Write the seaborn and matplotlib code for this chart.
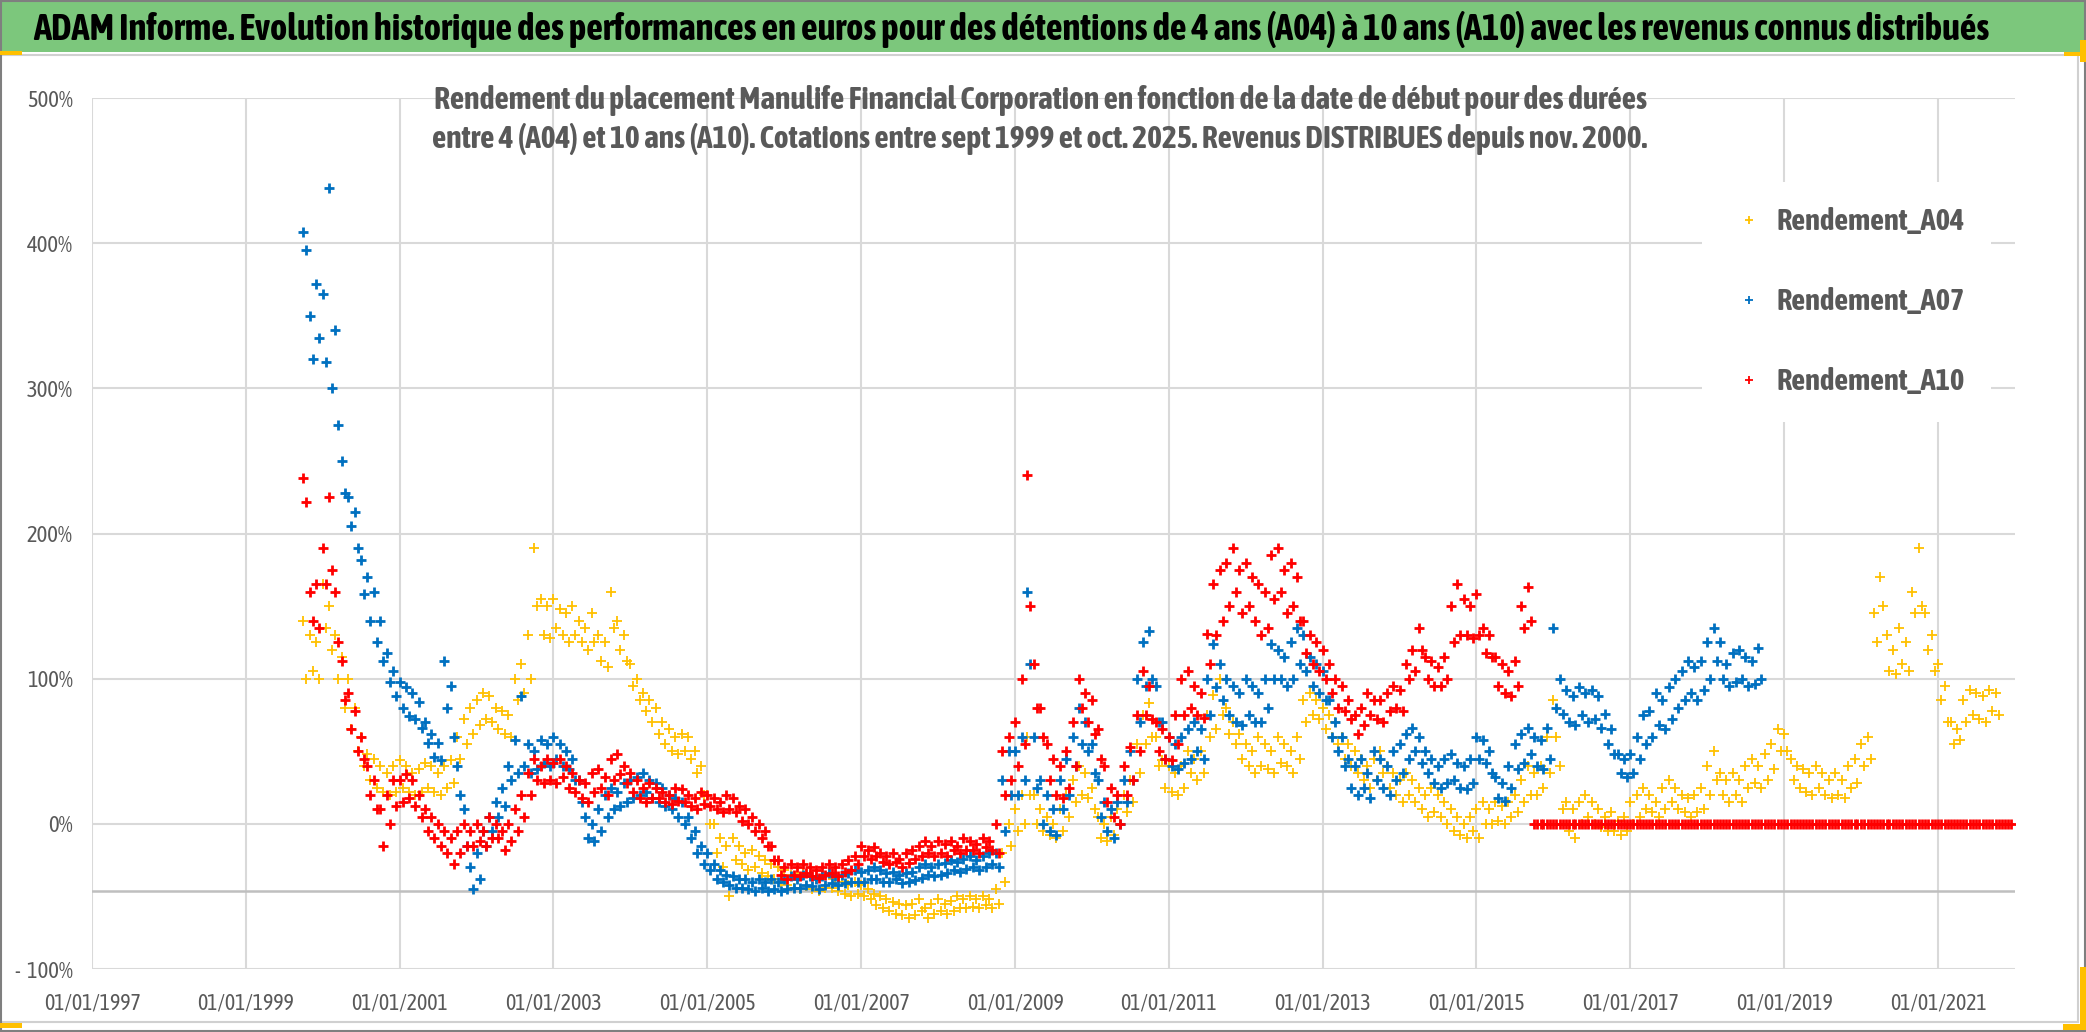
import numpy as np
import pandas as pd
import matplotlib
matplotlib.use("Agg")
import matplotlib.pyplot as plt
import matplotlib.font_manager as fm
from matplotlib.patches import Rectangle
from matplotlib.lines import Line2D
from matplotlib.ticker import FuncFormatter
import seaborn as sns

# ---------------------------------------------------------------- data
TITLE = ("ADAM Informe. Evolution historique des performances en euros pour des "
         "détentions de 4 ans (A04) à 10 ans (A10) avec les revenus connus distribués")
SUBTITLE_1 = ("Rendement du placement Manulife Financial Corporation en fonction de la "
              "date de début pour des durées")
SUBTITLE_2 = ("entre 4 (A04) et 10 ans (A10). Cotations entre sept 1999 et oct. 2025. "
              "Revenus DISTRIBUES depuis nov. 2000.")
SERIES_NAMES = ["Rendement_A04", "Rendement_A07", "Rendement_A10"]
X_TICK_YEARS = list(range(1997, 2022, 2))
Y_TICKS = [-1, 0, 1, 2, 3, 4, 5]

# monthly readings (value on the 1st, value on the 15th), in %
A04_START = "1999-10-01"
A04_VALUES = [
    (140, 100), (130, 105), (125, 100),
    (165, 135), (150, 120), (130, 100), (115, 80), (100, 65), (80, 50), (60, 40), (48, 30), (45, 25), (40, 22), (35, 20), (40, 22),
    (44, 25), (40, 22), (35, 20), (38, 22), (42, 25), (40, 22), (35, 20), (40, 25), (44, 28), (60, 45), (72, 55), (80, 62),
    (85, 68), (90, 72), (88, 70), (80, 65), (78, 62), (75, 60), (100, 85), (110, 90), (130, 100), (190, 150), (155, 130), (150, 128),
    (155, 135), (148, 130), (145, 125), (150, 130), (140, 125), (135, 120), (145, 125), (130, 112), (125, 108), (160, 135), (140, 120), (130, 112),
    (110, 95), (100, 85), (90, 78), (85, 70), (80, 62), (70, 55), (65, 50), (60, 48), (62, 50), (60, 45), (50, 35), (40, 20),
    (20, 0), (0, -20), (-10, -30), (-15, -50), (-10, -25), (-15, -28), (-20, -32), (-18, -30), (-22, -34), (-25, -36), (-28, -38), (-30, -40),
    (-32, -42), (-35, -44), (-36, -45), (-34, -43), (-36, -45), (-38, -46), (-36, -44), (-35, -44), (-38, -46), (-40, -48), (-42, -50), (-40, -48),
    (-42, -50), (-45, -52), (-48, -56), (-50, -58), (-52, -60), (-54, -62), (-55, -63), (-56, -65), (-55, -63), (-52, -60), (-58, -65), (-55, -62),
    (-52, -60), (-55, -62), (-53, -60), (-50, -58), (-52, -58), (-50, -57), (-52, -58), (-50, -56), (-52, -58), (-45, -55), (-20, -40), (0, -15),
    (10, -5), (20, 0), (60, 20), (20, 0), (10, -5), (5, -8), (0, -10), (10, -5), (20, 5), (30, 15), (40, 20), (35, 18),
    (25, 10), (5, -10), (0, -12), (5, -8), (10, 0), (20, 8), (30, 15), (55, 35), (75, 55), (83, 60), (60, 40), (44, 25),
    (40, 22), (35, 20), (40, 25), (50, 35), (45, 30), (50, 35), (75, 60), (89, 65), (100, 75), (80, 62), (70, 55), (62, 45),
    (55, 40), (50, 35), (60, 40), (55, 38), (50, 35), (60, 42), (55, 40), (50, 35), (60, 45), (85, 70), (90, 75), (85, 72),
    (80, 65), (75, 60), (70, 55), (60, 45), (55, 40), (50, 35), (45, 30), (40, 25), (45, 30), (50, 35), (40, 25), (35, 20),
    (30, 15), (35, 20), (30, 15), (25, 10), (20, 5), (25, 8), (20, 5), (15, 0), (10, -5), (5, -8), (0, -10), (5, -5),
    (10, -10), (15, 0), (10, 0), (15, 2), (12, 0), (15, 5), (20, 8), (30, 15), (40, 20), (35, 20), (40, 25), (60, 35),
    (85, 60), (40, 10), (15, -5), (10, -10), (15, 0), (20, 5), (15, 0), (10, -2), (5, -5), (8, -5), (2, -8), (5, -5),
    (15, 0), (20, 5), (25, 10), (20, 8), (15, 5), (25, 10), (30, 15), (25, 10), (20, 8), (18, 5), (20, 8), (25, 10),
    (40, 20), (50, 30), (35, 20), (30, 15), (35, 20), (30, 15), (40, 25), (45, 28), (40, 25), (48, 30), (55, 38), (65, 50),
    (62, 50), (45, 30), (40, 25), (38, 22), (35, 20), (40, 25), (35, 20), (30, 18), (35, 20), (30, 18), (40, 25), (45, 28),
    (55, 40), (60, 45), (145, 125), (170, 150), (130, 105), (120, 103), (135, 110), (125, 105), (160, 145), (190, 150), (145, 120), (130, 105),
    (110, 85), (95, 70), (70, 55), (65, 58), (85, 70), (92, 75), (90, 72), (88, 70), (92, 78), (90, 75),
]

A07_START = "1999-10-01"
A07_VALUES = [
    (408, 395), (350, 320), (372, 335),
    (365, 318), (438, 300), (340, 275), (250, 228), (225, 205), (215, 190), (182, 158), (170, 140), (160, 125), (140, 112), (118, 98), (105, 88),
    (98, 80), (94, 74), (90, 72), (84, 66), (70, 56), (62, 46), (56, 44), (112, 80), (95, 60), (40, 20), (10, -15), (-30, -45),
    (-20, -38), (-5, -15), (5, -5), (15, 5), (25, 12), (40, 30), (58, 35), (88, 40), (55, 35), (50, 38), (58, 42), (55, 40),
    (60, 45), (55, 40), (50, 38), (45, 30), (30, 15), (5, -10), (0, -12), (10, -5), (20, 5), (25, 10), (22, 12), (28, 15),
    (30, 18), (32, 20), (35, 22), (30, 18), (28, 15), (25, 12), (20, 10), (18, 5), (15, 0), (5, -10), (-5, -20), (-15, -28),
    (-20, -32), (-28, -38), (-32, -40), (-35, -42), (-36, -44), (-38, -44), (-38, -45), (-40, -46), (-38, -44), (-40, -46), (-38, -45), (-40, -46),
    (-38, -45), (-36, -44), (-38, -44), (-35, -42), (-36, -43), (-38, -45), (-36, -42), (-34, -41), (-36, -42), (-35, -41), (-34, -40), (-32, -40),
    (-33, -40), (-32, -38), (-30, -38), (-32, -40), (-34, -40), (-33, -38), (-35, -41), (-34, -40), (-33, -39), (-30, -37), (-28, -35), (-30, -36),
    (-28, -35), (-27, -34), (-25, -32), (-26, -33), (-24, -31), (-22, -30), (-25, -32), (-22, -30), (-20, -28), (-20, -30), (30, -5), (50, 20),
    (50, 20), (60, 30), (160, 110), (60, 25), (30, 0), (20, -5), (10, -8), (30, 10), (45, 20), (60, 40), (80, 55), (70, 50),
    (55, 35), (30, 5), (15, -5), (10, -10), (15, 0), (30, 15), (50, 30), (100, 70), (125, 95), (133, 100), (95, 70), (70, 45),
    (60, 40), (55, 38), (60, 42), (65, 45), (70, 50), (65, 45), (100, 75), (124, 94), (110, 85), (100, 75), (95, 70), (90, 68),
    (100, 75), (95, 70), (90, 70), (100, 80), (124, 100), (120, 100), (115, 95), (125, 100), (135, 110), (130, 105), (115, 95), (110, 90),
    (105, 85), (85, 60), (70, 50), (60, 40), (45, 25), (40, 20), (45, 25), (35, 18), (50, 30), (45, 25), (40, 20), (50, 30),
    (55, 35), (62, 45), (66, 50), (60, 42), (50, 35), (45, 28), (40, 25), (45, 28), (48, 30), (42, 25), (40, 24), (45, 28),
    (60, 45), (58, 42), (50, 35), (32, 18), (28, 16), (40, 25), (55, 38), (62, 42), (66, 48), (60, 40), (58, 38), (66, 45),
    (135, 80), (100, 76), (92, 70), (88, 68), (94, 75), (90, 70), (92, 72), (88, 66), (76, 55), (65, 48), (48, 35), (45, 32),
    (48, 35), (60, 45), (75, 55), (78, 60), (90, 68), (85, 65), (94, 72), (100, 80), (105, 85), (112, 90), (108, 85), (112, 92),
    (125, 100), (135, 112), (125, 100), (110, 95), (118, 98), (120, 100), (115, 95), (112, 96), (121, 100),
]

A10_START = "1999-10-01"
A10_VALUES = [
    (238, 222), (160, 140), (165, 135),
    (190, 165), (225, 175), (160, 125), (112, 85), (90, 65), (78, 50), (60, 45), (40, 20), (30, 10), (10, -15), (20, 0), (30, 12),
    (30, 15), (34, 18), (30, 12), (20, 5), (10, -5), (5, -10), (0, -15), (-5, -20), (-10, -28), (-5, -20), (0, -15), (-5, -15),
    (0, -12), (-5, -15), (5, -10), (0, -10), (-5, -18), (0, -12), (10, -5), (20, 5), (35, 20), (45, 30), (40, 28), (45, 30),
    (42, 28), (45, 32), (40, 25), (35, 22), (30, 18), (28, 15), (35, 22), (38, 25), (32, 20), (45, 30), (48, 34), (40, 28),
    (35, 22), (30, 18), (25, 15), (28, 18), (25, 18), (22, 15), (20, 14), (25, 16), (24, 15), (20, 12), (18, 10), (22, 14),
    (20, 12), (18, 10), (15, 8), (20, 10), (18, 8), (12, 2), (10, 0), (5, -5), (0, -10), (-5, -15), (-15, -25), (-25, -35),
    (-30, -38), (-28, -35), (-30, -36), (-28, -34), (-30, -36), (-32, -37), (-30, -35), (-28, -34), (-30, -36), (-28, -33), (-25, -32), (-22, -28),
    (-15, -22), (-18, -24), (-16, -22), (-20, -26), (-22, -28), (-20, -26), (-24, -30), (-20, -27), (-18, -24), (-15, -22), (-12, -20), (-15, -22),
    (-12, -20), (-14, -22), (-12, -18), (-15, -20), (-10, -18), (-12, -18), (-14, -20), (-10, -16), (-12, -18), (0, -20), (50, 20), (60, 30),
    (70, 40), (100, 55), (240, 150), (110, 80), (80, 60), (55, 30), (45, 20), (40, 18), (50, 25), (70, 40), (100, 80), (90, 70),
    (85, 62), (65, 45), (40, 15), (25, 5), (20, 0), (40, 20), (53, 30), (75, 50), (105, 75), (95, 72), (70, 50), (65, 45),
    (60, 44), (75, 55), (100, 75), (105, 80), (95, 75), (90, 73), (131, 110), (165, 130), (175, 140), (180, 150), (190, 160), (175, 145),
    (180, 150), (170, 140), (165, 130), (160, 135), (185, 155), (190, 160), (175, 145), (180, 150), (170, 140), (140, 118), (130, 110), (125, 105),
    (120, 100), (110, 90), (100, 80), (95, 78), (85, 72), (75, 62), (80, 68), (90, 75), (85, 72), (85, 70), (90, 78), (95, 80),
    (92, 78), (110, 100), (120, 105), (135, 120), (115, 100), (112, 95), (108, 95), (115, 100), (150, 125), (165, 130), (155, 130), (150, 128),
    (158, 130), (135, 118), (130, 115), (115, 95), (110, 90), (105, 88), (112, 95), (150, 135), (163, 140),
    (0, 0), (0, 0), (0, 0),
    (0, 0), (0, 0), (0, 0), (0, 0), (0, 0), (0, 0), (0, 0), (0, 0), (0, 0), (0, 0), (0, 0), (0, 0),
    (0, 0), (0, 0), (0, 0), (0, 0), (0, 0), (0, 0), (0, 0), (0, 0), (0, 0), (0, 0), (0, 0), (0, 0),
    (0, 0), (0, 0), (0, 0), (0, 0), (0, 0), (0, 0), (0, 0), (0, 0), (0, 0), (0, 0), (0, 0), (0, 0),
    (0, 0), (0, 0), (0, 0), (0, 0), (0, 0), (0, 0), (0, 0), (0, 0), (0, 0), (0, 0), (0, 0), (0, 0),
    (0, 0), (0, 0), (0, 0), (0, 0), (0, 0), (0, 0), (0, 0), (0, 0), (0, 0), (0, 0), (0, 0), (0, 0),
    (0, 0), (0, 0), (0, 0), (0, 0), (0, 0), (0, 0), (0, 0), (0, 0), (0, 0), (0, 0), (0, 0), (0, 0),
]

COLORS = {"Rendement_A04": "#FFC000", "Rendement_A07": "#0070C0", "Rendement_A10": "#FF0000"}
LINEW = {"Rendement_A04": 1.3, "Rendement_A07": 2.0, "Rendement_A10": 2.0}


def to_frame(name, start, values):
    months = pd.date_range(start, periods=len(values), freq="MS")
    first = pd.DataFrame({"date": months, "value": [v[0] / 100 for v in values]})
    mid = pd.DataFrame({"date": months + pd.Timedelta(days=14), "value": [v[1] / 100 for v in values]})
    df = pd.concat([first, mid]).sort_values("date")
    df["series"] = name
    return df


data = pd.concat([
    to_frame("Rendement_A04", A04_START, A04_VALUES),
    to_frame("Rendement_A07", A07_START, A07_VALUES),
    to_frame("Rendement_A10", A10_START, A10_VALUES),
], ignore_index=True)

# ---------------------------------------------------------------- fonts
sns.set_theme(style="white")


def _w(v):
    if isinstance(v, str):
        return fm.weight_dict.get(v, 400)
    return int(v)


weights = {}
for f in fm.fontManager.ttflist:
    weights.setdefault(f.name, set()).add(_w(f.weight))
PREFS = ["Asap Condensed", "Cabin Condensed", "Encode Sans Condensed", "Barlow Semi Condensed",
         "Archivo Narrow", "Barlow Condensed", "Liberation Sans Narrow"]
base_family = "Liberation Sans"
for p in PREFS:
    if p in weights and max(weights[p]) >= 600 and min(weights[p]) <= 500:
        base_family = p
        break
plt.rcParams["font.family"] = [base_family, "DejaVu Sans"]

# ---------------------------------------------------------------- figure
W, H = 2086, 1032
fig = plt.figure(figsize=(W / 100, H / 100), dpi=100)
fig.patch.set_facecolor("white")

fig.patches.append(Rectangle((0, 1 - 52 / H), 1, 52 / H, transform=fig.transFigure,
                             facecolor="#7CC77C", edgecolor="none", zorder=0))
fig.patches.append(Rectangle((0, 1 - 1022 / H), 2078 / W, (1022 - 55) / H, transform=fig.transFigure,
                             facecolor="none", edgecolor="#D0D0D0", lw=1.5, zorder=1))
fig.patches.append(Rectangle((0.0005, 0.0005), 0.999, 0.999, transform=fig.transFigure,
                             facecolor="none", edgecolor="#7F7F7F", lw=1.5, zorder=2))
for (x0, y0, w, h) in [(0, 51, 22, 4), (0, 1023, 22, 5), (2063, 1024, 23, 6), (2080, 967, 6, 63),
                       (2080, 40, 6, 22), (2064, 52, 22, 4)]:
    fig.patches.append(Rectangle((x0 / W, 1 - (y0 + h) / H), w / W, h / H, transform=fig.transFigure,
                                 facecolor="#FFC000", edgecolor="none", zorder=3))

L, R, T, B = 92, 2015, 98, 969
ax = fig.add_axes([L / W, 1 - B / H, (R - L) / W, (B - T) / H])
ax.set_facecolor("white")

for name in SERIES_NAMES:
    sub = data[data["series"] == name]
    sns.scatterplot(data=sub, x="date", y="value", marker="+", s=60,
                    color=COLORS[name], edgecolor=COLORS[name], linewidth=LINEW[name],
                    legend=False, ax=ax, zorder=3)

ax.set_xlim(pd.Timestamp("1997-01-01"), pd.Timestamp("2022-01-01"))
ax.set_ylim(-1, 5)
xt = pd.to_datetime([f"{y}-01-01" for y in X_TICK_YEARS])
ax.set_xticks(xt)
ax.set_xticklabels([d.strftime("%d/%m/%Y") for d in xt])
ax.set_yticks(Y_TICKS)
ax.yaxis.set_major_formatter(FuncFormatter(
    lambda v, p: f"{v * 100:.0f}%" if v >= 0 else f"-  {abs(v) * 100:.0f}%"))
ax.grid(True, color="#D9D9D9", lw=1.5)
ax.set_axisbelow(True)
for s in ax.spines.values():
    s.set_visible(False)
ax.axhline(-0.46, color="#BFBFBF", lw=1.8, zorder=1.5)
ax.set_xlabel("")
ax.set_ylabel("")

renderer = fig.canvas.get_renderer()


def fit_size(text, target_px, weight="normal", base=20):
    t = fig.text(0, 0, text, fontsize=base, weight=weight)
    w = t.get_window_extent(renderer).width
    t.remove()
    return base * target_px / w


xfs = fit_size("01/01/1997", 97)
yfs = fit_size("500%", 46)
ax.tick_params(axis="x", labelsize=xfs, labelcolor="#595959", pad=17, length=0)
ax.tick_params(axis="y", labelsize=yfs, labelcolor="#595959", pad=14, length=0)

# titles
tfs = fit_size(TITLE, 1948, weight="bold")
fig.text(33 / W, 1 - 29 / H, TITLE, fontsize=tfs, weight="bold", color="black",
         ha="left", va="center")
sfs = fit_size(SUBTITLE_2, 1208, weight="bold")
fig.text(1040 / W, 1 - 100 / H, SUBTITLE_1, fontsize=sfs, weight="bold", color="#595959",
         ha="center", va="center")
fig.text(1040 / W, 1 - 139 / H, SUBTITLE_2, fontsize=sfs, weight="bold", color="#595959",
         ha="center", va="center")

# legend (rows 80 px apart, first row centred at y=222, text from x=1777, box from x=1702)
lfs = fit_size("Rendement_A04", 188, weight="bold")
fs_px = lfs * 100 / 72
handles = [Line2D([], [], ls="none", marker="+", ms=6, mew=1.3, color=COLORS[n]) for n in SERIES_NAMES]


def make_legend(ls, bp, htp):
    lg = ax.legend(handles, SERIES_NAMES, loc="upper left",
                   bbox_to_anchor=((1702 - L) / (R - L), 1 - (182 - T) / (B - T)),
                   frameon=True, facecolor="white", edgecolor="none", framealpha=1,
                   fontsize=lfs, labelspacing=ls, handlelength=1.4, handletextpad=htp,
                   borderpad=bp, borderaxespad=0)
    for t in lg.get_texts():
        t.set_color("#595959")
        t.set_fontweight("bold")
    lg.set_zorder(5)
    return lg


ls, bp, htp = 1.5, 0.8, 0.3
for _ in range(3):
    leg = make_legend(ls, bp, htp)
    fig.canvas.draw()
    ext = [t.get_window_extent(renderer) for t in leg.get_texts()]
    cy = [H - (e.y0 + e.y1) / 2 for e in ext]
    ls += ((80 - (cy[1] - cy[0])) + (80 - (cy[2] - cy[1]))) / 2 / fs_px
    bp += (222 - cy[0]) / fs_px
    htp += (1777 - ext[0].x0) / fs_px
    htp -= (222 - cy[0]) / fs_px
leg = make_legend(ls, bp, htp)

fig.savefig("out.png", dpi=100, facecolor="white")
